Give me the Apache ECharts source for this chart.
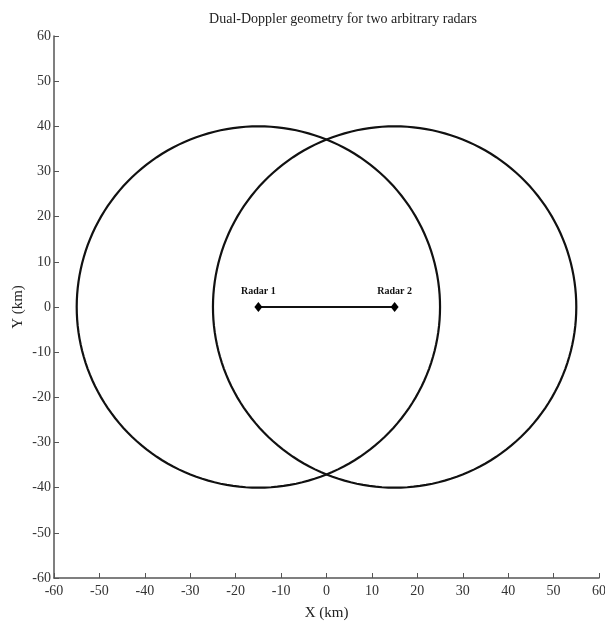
<!DOCTYPE html>
<html>
<head>
<meta charset="utf-8">
<script src="https://cdn.jsdelivr.net/npm/echarts@6/dist/echarts.min.js"></script>
<style>html,body{margin:0;padding:0;background:#fff}#c{width:605px;height:625px}</style>
</head>
<body>
<div id="c"></div>
<script>
var radarNames = ['Radar 1', 'Radar 2'];
var radarX = [-15, 15];
var radarY = [0, 0];
var rangeRadius = [40, 40];
var axisMin = -60, axisMax = 60, axisStep = 10;

var chart = echarts.init(document.getElementById('c'));
var font = 'Liberation Serif, Times New Roman, serif';

var circleData = radarX.map(function (x, i) { return [x, radarY[i], rangeRadius[i]]; });
var radarPts = radarX.map(function (x, i) { return { value: [x, radarY[i]], name: radarNames[i] }; });

chart.setOption({
  animation: false,
  title: {
    text: 'Dual-Doppler geometry for two arbitrary radars',
    left: 338, top: 7, textAlign: 'center',
    textStyle: { fontFamily: font, fontSize: 14, fontWeight: 'normal', color: '#222' }
  },
  grid: { left: 54, right: 6, top: 36, bottom: 47, outerBoundsMode: 'none', containLabel: false },
  xAxis: {
    type: 'value', min: axisMin, max: axisMax, interval: axisStep,
    name: 'X (km)', nameLocation: 'middle', nameGap: 28,
    nameTextStyle: { fontFamily: font, fontSize: 15, color: '#222' },
    axisLine: { onZero: false, lineStyle: { color: '#555', width: 1.5 } },
    axisTick: { inside: true, length: 5, lineStyle: { color: '#555' } },
    axisLabel: { fontFamily: font, fontSize: 14, color: '#333', margin: 6 },
    splitLine: { show: false }
  },
  yAxis: {
    type: 'value', min: axisMin, max: axisMax, interval: axisStep,
    name: 'Y (km)', nameLocation: 'middle', nameGap: 28, nameRotate: 90,
    nameMoveOverlap: false,
    nameTextStyle: { fontFamily: font, fontSize: 15, color: '#222' },
    axisLine: { onZero: false, lineStyle: { color: '#555', width: 1.5 } },
    axisTick: { inside: true, length: 5, lineStyle: { color: '#555' } },
    axisLabel: { fontFamily: font, fontSize: 14, color: '#333', margin: 3 },
    splitLine: { show: false }
  },
  series: [
    {
      type: 'custom',
      data: circleData,
      silent: true,
      renderItem: function (params, api) {
        var cx = api.value(0), cy = api.value(1), r = api.value(2);
        var pts = [];
        for (var k = 0; k <= 360; k += 2) {
          var a = k * Math.PI / 180;
          pts.push(api.coord([cx + r * Math.cos(a), cy + r * Math.sin(a)]));
        }
        return {
          type: 'polyline',
          shape: { points: pts },
          style: { stroke: '#111', lineWidth: 2.2, fill: null }
        };
      }
    },
    {
      type: 'line',
      data: radarPts,
      symbol: 'diamond',
      symbolSize: [8, 10],
      itemStyle: { color: '#000' },
      lineStyle: { color: '#111', width: 2 },
      label: {
        show: true, position: 'top', distance: 6,
        formatter: '{b}',
        fontFamily: font, fontSize: 10, fontWeight: 'bold', color: '#111'
      }
    }
  ]
});
</script>
</body>
</html>
